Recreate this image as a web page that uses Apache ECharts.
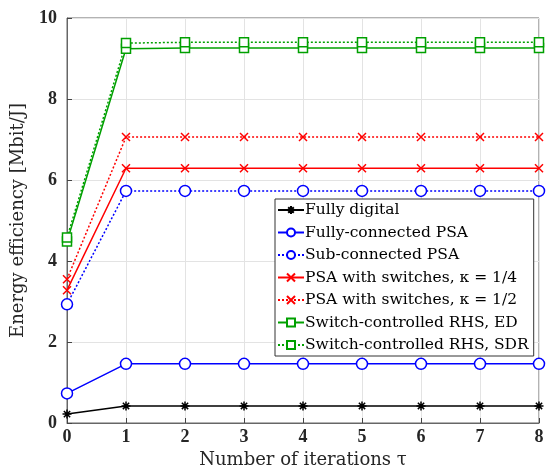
<!DOCTYPE html>
<html><head><meta charset="utf-8">
<script src="https://cdn.jsdelivr.net/npm/echarts@6/dist/echarts.min.js"></script>
<style>html,body{margin:0;padding:0;background:#fff}#c{width:549px;height:473px}</style>
</head><body><div id="c"></div>
<script>
var iterations = ['0','1','2','3','4','5','6','7','8'];
var fullyDigital   = [0.22, 0.42, 0.42, 0.42, 0.42, 0.42, 0.42, 0.42, 0.42];
var fullyPSA       = [0.73, 1.46, 1.46, 1.46, 1.46, 1.46, 1.46, 1.46, 1.46];
var subPSA         = [2.93, 5.73, 5.73, 5.73, 5.73, 5.73, 5.73, 5.73, 5.73];
var psaSw14        = [3.28, 6.29, 6.29, 6.29, 6.29, 6.29, 6.29, 6.29, 6.29];
var psaSw12        = [3.55, 7.06, 7.06, 7.06, 7.06, 7.06, 7.06, 7.06, 7.06];
var rhsED          = [4.48, 9.24, 9.26, 9.26, 9.26, 9.26, 9.26, 9.26, 9.26];
var rhsSDR         = [4.58, 9.38, 9.40, 9.40, 9.40, 9.40, 9.40, 9.40, 9.40];
var seriesNames = ['Fully digital','Fully-connected PSA','Sub-connected PSA',
  'PSA with switches, \u03BA = 1/4','PSA with switches, \u03BA = 1/2',
  'Switch-controlled RHS, ED','Switch-controlled RHS, SDR'];

var FONT = '"DejaVu Serif", "Liberation Serif", serif';
var TICKFONT = '"Liberation Serif", serif';
var star = 'path://M5,0 L5,10 M0,5 L10,5 M1.5,1.5 L8.5,8.5 M8.5,1.5 L1.5,8.5';
var cross = 'path://M0,0 L10,10 M10,0 L0,10';

function mk(name, data, color, type, symbol, size, fill) {
  return {
    name: name, type: 'line', data: data, symbol: symbol, symbolSize: size,
    lineStyle: {color: color, width: 1.5, type: type},
    itemStyle: {color: fill ? color : '#fff', borderColor: color, borderWidth: 1.5},
    emphasis: {disabled: true}, animation: false, z: 3
  };
}

var chart = echarts.init(document.getElementById('c'), null, {renderer: 'canvas'});
chart.setOption({
  backgroundColor: '#fff',
  animation: false,
  grid: {left: 67, right: 10, top: 18, bottom: 50, show: true, borderColor: '#666', borderWidth: 1,
         containLabel: false, outerBoundsMode: 'none'},
  xAxis: {
    type: 'category', data: iterations, boundaryGap: false,
    name: 'Number of iterations \u03C4', nameLocation: 'middle', nameGap: 28,
    nameTextStyle: {fontFamily: FONT, fontSize: 18, color: '#262626'},
    axisLine: {lineStyle: {color: '#666', width: 1}},
    axisTick: {show: true, inside: true, length: 5, lineStyle: {color: '#444'}},
    axisLabel: {fontFamily: TICKFONT, fontSize: 18, fontWeight: 'bold', color: '#262626', margin: 5},
    splitLine: {show: true, lineStyle: {color: '#e3e3e3', width: 1}}
  },
  yAxis: {
    type: 'value', min: 0, max: 10, interval: 2,
    name: 'Energy efficiency [Mbit/J]', nameLocation: 'middle', nameGap: 40,
    nameTextStyle: {fontFamily: FONT, fontSize: 18, color: '#262626'},
    axisLine: {show: true, lineStyle: {color: '#666', width: 1}},
    axisTick: {show: true, inside: true, length: 5, lineStyle: {color: '#444'}},
    axisLabel: {fontFamily: TICKFONT, fontSize: 18, fontWeight: 'bold', color: '#262626', margin: 10},
    splitLine: {show: true, lineStyle: {color: '#e3e3e3', width: 1}}
  },
  legend: {
    orient: 'vertical', left: 275, top: 199, itemGap: 6.5, itemWidth: 26, itemHeight: 10,
    padding: [3, 5, 3, 2], backgroundColor: '#fff', borderColor: '#333', borderWidth: 1, borderRadius: 0,
    textStyle: {fontFamily: FONT, fontSize: 15.5, color: '#000', padding: [0, 0, 0, -4]},
    data: seriesNames, selectedMode: false
  },
  series: [
    mk(seriesNames[0], fullyDigital, '#000000', 'solid', star, 9, true),
    mk(seriesNames[1], fullyPSA, '#0000ff', 'solid', 'circle', 11, false),
    mk(seriesNames[2], subPSA, '#0000ff', [2, 2], 'circle', 11, false),
    mk(seriesNames[3], psaSw14, '#ff0000', 'solid', cross, 8, true),
    mk(seriesNames[4], psaSw12, '#ff0000', [2, 2], cross, 8, true),
    mk(seriesNames[5], rhsED, '#00a000', 'solid', 'rect', 9, false),
    mk(seriesNames[6], rhsSDR, '#00a000', [2, 2], 'rect', 9, false)
  ]
});
</script></body></html>
